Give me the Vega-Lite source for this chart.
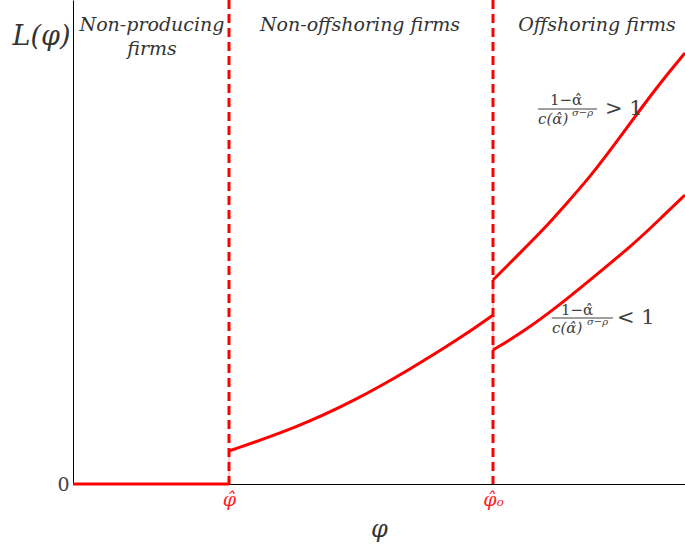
{
  "$schema": "https://vega.github.io/schema/vega-lite/v6.json",
  "width": 612,
  "height": 484,
  "autosize": {"type": "none"},
  "padding": {"left": 73, "top": 0, "right": 0, "bottom": 66},
  "background": "white",
  "config": {"view": {"stroke": null}},
  "datasets": {
    "curves": [
      {"series": "np", "phi": 0, "L": 0},
      {"series": "np", "phi": 156, "L": 0},
      {"series": "no", "phi": 156, "L": 33},
      {"series": "no", "phi": 223, "L": 56},
      {"series": "no", "phi": 283, "L": 84},
      {"series": "no", "phi": 336, "L": 114},
      {"series": "no", "phi": 389, "L": 147},
      {"series": "no", "phi": 420, "L": 169},
      {"series": "hi", "phi": 420, "L": 204},
      {"series": "hi", "phi": 447, "L": 231},
      {"series": "hi", "phi": 470, "L": 254},
      {"series": "hi", "phi": 494, "L": 281},
      {"series": "hi", "phi": 517, "L": 307},
      {"series": "hi", "phi": 545, "L": 344},
      {"series": "hi", "phi": 569, "L": 377},
      {"series": "hi", "phi": 592, "L": 407},
      {"series": "hi", "phi": 612, "L": 431},
      {"series": "lo", "phi": 420, "L": 134},
      {"series": "lo", "phi": 450, "L": 152},
      {"series": "lo", "phi": 484, "L": 177},
      {"series": "lo", "phi": 517, "L": 204},
      {"series": "lo", "phi": 562, "L": 241},
      {"series": "lo", "phi": 589, "L": 267},
      {"series": "lo", "phi": 612, "L": 289}
    ],
    "cutoffs": [{"phi": 156}, {"phi": 420}],
    "jumps": [{"phi": 156, "L": 0, "L2": 33}, {"phi": 420, "L": 134, "L2": 204}],
    "regions": [
      {"phi": 79, "L": 459, "text": "Non-producing"},
      {"phi": 79, "L": 435, "text": "firms"},
      {"phi": 287, "L": 459, "text": "Non-offshoring firms"},
      {"phi": 524, "L": 459, "text": "Offshoring firms"}
    ],
    "nums": [
      {"phi": 493, "L": 384, "text": "1−α̂"},
      {"phi": 504, "L": 174, "text": "1−α̂"}
    ],
    "bars": [
      {"phi": 465, "phi2": 524, "L": 375},
      {"phi": 479, "phi2": 540, "L": 166}
    ],
    "dens": [
      {"phi": 465, "L": 365, "text": "c(α̂)"},
      {"phi": 479, "L": 156, "text": "c(α̂)"}
    ],
    "sups": [
      {"phi": 499, "L": 371, "text": "σ−ρ"},
      {"phi": 514, "L": 162, "text": "σ−ρ"}
    ],
    "rels": [
      {"phi": 532, "L": 375, "text": "> 1"},
      {"phi": 544, "L": 166, "text": "< 1"}
    ]
  },
  "layer": [
    {
      "data": {"name": "jumps"},
      "mark": {"type": "rule", "color": "#ff9999", "strokeWidth": 1},
      "encoding": {
        "x": {"field": "phi", "type": "quantitative", "scale": {"domain": [0, 612], "nice": false}},
        "y": {"field": "L", "type": "quantitative", "scale": {"domain": [0, 484], "nice": false}},
        "y2": {"field": "L2"}
      }
    },
    {
      "data": {"name": "cutoffs"},
      "mark": {"type": "rule", "color": "#ff0000", "strokeWidth": 3, "strokeDash": [9, 5]},
      "encoding": {
        "x": {"field": "phi", "type": "quantitative"}
      }
    },
    {
      "data": {"name": "curves"},
      "mark": {"type": "line", "color": "#ff0000", "strokeWidth": 3, "interpolate": "basis", "clip": false},
      "encoding": {
        "x": {
          "field": "phi", "type": "quantitative",
          "scale": {"domain": [0, 612], "nice": false},
          "axis": {
            "values": [156, 420],
            "labelExpr": "datum.value == 156 ? 'φ̂' : 'φ̂ₒ'",
            "labelColor": "#ff2020",
            "labelFont": "DejaVu Serif",
            "labelFontStyle": "italic",
            "labelFontSize": 19,
            "labelPadding": 6,
            "ticks": false,
            "grid": false,
            "domainColor": "black",
            "domainWidth": 1,
            "title": "φ",
            "titleFont": "DejaVu Serif",
            "titleFontStyle": "italic",
            "titleFontWeight": "normal",
            "titleFontSize": 24,
            "titleColor": "#333333",
            "titlePadding": 8
          }
        },
        "y": {
          "field": "L", "type": "quantitative",
          "scale": {"domain": [0, 484], "nice": false},
          "axis": {
            "values": [0],
            "labelFont": "DejaVu Serif",
            "labelFontSize": 19,
            "labelColor": "#444444",
            "labelPadding": 4,
            "ticks": false,
            "grid": false,
            "domainColor": "black",
            "domainWidth": 1,
            "title": "L(φ)",
            "titleAngle": 0,
            "titleAlign": "right",
            "titleBaseline": "middle",
            "titleX": -3,
            "titleY": 36,
            "titleFont": "DejaVu Serif",
            "titleFontStyle": "italic",
            "titleFontWeight": "normal",
            "titleFontSize": 27,
            "titleColor": "#333333"
          }
        },
        "detail": {"field": "series"}
      }
    },
    {
      "data": {"name": "regions"},
      "mark": {"type": "text", "font": "DejaVu Serif", "fontStyle": "italic", "fontSize": 19, "color": "#333333", "align": "center", "baseline": "middle"},
      "encoding": {
        "x": {"field": "phi", "type": "quantitative"},
        "y": {"field": "L", "type": "quantitative"},
        "text": {"field": "text"}
      }
    },
    {
      "data": {"name": "nums"},
      "mark": {"type": "text", "font": "DejaVu Serif", "fontSize": 15, "color": "#404040", "align": "center", "baseline": "middle"},
      "encoding": {
        "x": {"field": "phi", "type": "quantitative"},
        "y": {"field": "L", "type": "quantitative"},
        "text": {"field": "text"}
      }
    },
    {
      "data": {"name": "bars"},
      "mark": {"type": "rule", "color": "#404040", "strokeWidth": 1},
      "encoding": {
        "x": {"field": "phi", "type": "quantitative"},
        "x2": {"field": "phi2"},
        "y": {"field": "L", "type": "quantitative"}
      }
    },
    {
      "data": {"name": "dens"},
      "mark": {"type": "text", "font": "DejaVu Serif", "fontStyle": "italic", "fontSize": 15, "color": "#404040", "align": "left", "baseline": "middle"},
      "encoding": {
        "x": {"field": "phi", "type": "quantitative"},
        "y": {"field": "L", "type": "quantitative"},
        "text": {"field": "text"}
      }
    },
    {
      "data": {"name": "sups"},
      "mark": {"type": "text", "font": "DejaVu Serif", "fontStyle": "italic", "fontSize": 10, "color": "#404040", "align": "left", "baseline": "middle"},
      "encoding": {
        "x": {"field": "phi", "type": "quantitative"},
        "y": {"field": "L", "type": "quantitative"},
        "text": {"field": "text"}
      }
    },
    {
      "data": {"name": "rels"},
      "mark": {"type": "text", "font": "DejaVu Serif", "fontSize": 21, "color": "#404040", "align": "left", "baseline": "middle"},
      "encoding": {
        "x": {"field": "phi", "type": "quantitative"},
        "y": {"field": "L", "type": "quantitative"},
        "text": {"field": "text"}
      }
    }
  ]
}
